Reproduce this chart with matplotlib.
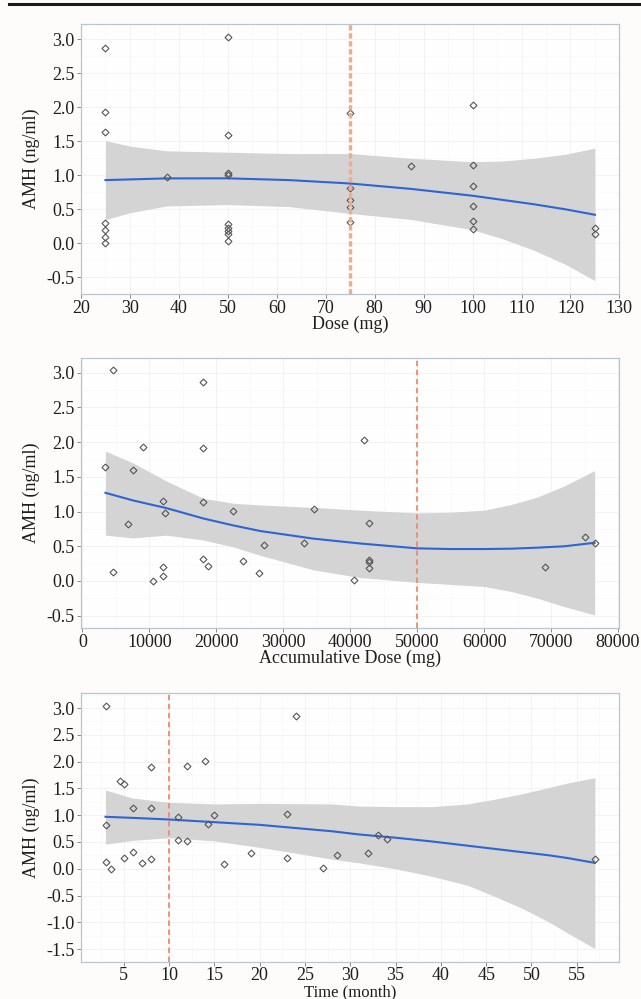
import matplotlib
matplotlib.use("Agg")
import matplotlib.pyplot as plt
from matplotlib.lines import Line2D
from matplotlib.ticker import MultipleLocator, FormatStrFormatter

plt.rcParams['font.family'] = ['Liberation Serif', 'DejaVu Serif']

# ---------------- Panel 1: Dose ----------------
dose_x = [25, 25, 25, 25, 25, 25, 25,
          37.5,
          50, 50, 50, 50, 50, 50, 50, 50, 50,
          75, 75, 75, 75, 75,
          87.5,
          100, 100, 100, 100, 100, 100,
          125, 125]
dose_y = [2.87, 1.93, 1.64, 0.30, 0.19, 0.09, 0.01,
          0.98,
          3.04, 1.60, 1.035, 1.01, 0.28, 0.22, 0.18, 0.14, 0.03,
          1.91, 0.81, 0.64, 0.53, 0.31,
          1.14,
          2.03, 1.15, 0.85, 0.555, 0.33, 0.21,
          0.22, 0.13]
dose_fit_x = [25, 30, 37.5, 50, 62.5, 75, 87.5, 100, 106, 112.5, 119, 125]
dose_fit = [0.93, 0.94, 0.955, 0.956, 0.93, 0.88, 0.80, 0.70, 0.64, 0.575, 0.50, 0.42]
dose_hi = [1.51, 1.43, 1.36, 1.34, 1.32, 1.32, 1.25, 1.20, 1.21, 1.25, 1.31, 1.40]
dose_lo = [0.35, 0.45, 0.55, 0.57, 0.54, 0.44, 0.35, 0.20, 0.07, -0.10, -0.31, -0.55]
dose_cut = 75

# ---------------- Panel 2: Accumulative dose ----------------
acc_x = [3450, 4550, 4550, 6840, 7580, 9130, 10570, 12110, 12400, 12110, 12110,
         18080, 18080, 18080, 18080, 18830, 22550, 24050, 26340, 27090, 33060,
         34600, 40570, 42060, 42810, 42810, 42810, 42810, 69070, 75040, 76590]
acc_y = [1.64, 3.04, 0.13, 0.82, 1.60, 1.93, 0.00, 1.15, 0.98, 0.20, 0.07,
         2.87, 1.91, 1.14, 0.32, 0.21, 1.01, 0.29, 0.12, 0.52, 0.54,
         1.04, 0.02, 2.03, 0.84, 0.30, 0.27, 0.18, 0.20, 0.63, 0.55]
acc_fit_x = [3450, 7570, 12540, 18080, 22560, 26540, 34500, 41470, 50000,
             55000, 60000, 64000, 68000, 72000, 76500]
acc_fit = [1.27, 1.16, 1.05, 0.90, 0.80, 0.72, 0.61, 0.54, 0.47,
           0.46, 0.46, 0.465, 0.48, 0.50, 0.55]
acc_hi = [1.87, 1.70, 1.44, 1.19, 1.12, 1.095, 1.06, 1.02, 0.98,
          0.99, 1.02, 1.10, 1.21, 1.37, 1.59]
acc_lo = [0.66, 0.62, 0.66, 0.59, 0.49, 0.37, 0.16, 0.05, -0.02,
          -0.05, -0.08, -0.15, -0.25, -0.37, -0.49]
acc_cut = 50000

# ---------------- Panel 3: Time ----------------
time_x = [3.05, 3.05, 3.05, 3.57, 4.56, 5.04, 5.04, 6.06, 6.06, 7.06, 8.05, 8.05,
          8.05, 11.05, 11.05, 12.04, 12.04, 14.02, 14.28, 15.0, 16.04, 19.01,
          23.0, 23.0, 24.06, 27.0, 28.5, 32.0, 33.03, 34.02, 57.0]
time_y = [3.03, 0.81, 0.13, 0.00, 1.63, 1.59, 0.21, 1.13, 0.32, 0.11, 1.90, 1.14,
          0.19, 0.97, 0.54, 1.92, 0.52, 2.02, 0.83, 1.00, 0.08, 0.30,
          1.03, 0.20, 2.86, 0.015, 0.26, 0.29, 0.63, 0.55, 0.18]
time_fit_x = [3, 6, 10, 15, 20, 28, 31, 35, 39, 43, 46, 49, 52, 54, 57]
time_fit = [0.97, 0.95, 0.92, 0.87, 0.82, 0.70, 0.64, 0.58, 0.51, 0.43, 0.37,
            0.31, 0.25, 0.20, 0.11]
time_hi = [1.47, 1.32, 1.24, 1.21, 1.22, 1.21, 1.17, 1.16, 1.16, 1.21, 1.30,
           1.40, 1.52, 1.60, 1.70]
time_lo = [0.46, 0.53, 0.58, 0.52, 0.40, 0.18, 0.11, 0.00, -0.14, -0.31, -0.52,
           -0.74, -1.00, -1.20, -1.49]
time_cut = 10

W, H = 641, 999
fig = plt.figure(figsize=(W / 100, H / 100), dpi=100, facecolor='#fdfcfb')

# top black rule
fig.add_artist(Line2D([9 / W, 1.0], [1 - 4 / H, 1 - 4 / H], color='#1a1a1a', lw=2.2))


def panel(box, xs, ys, fx, fy, hi, lo, cut, xlim, ylim, xstep, ystep, xlabel,
          cut_lw, cut_dash, cut_color, xfmt=None, xlabelpad=-1, xtickpad=1.5,
          xlabelsize=13):
    left, top, right, bottom = box
    ax = fig.add_axes([left / W, 1 - bottom / H, (right - left) / W, (bottom - top) / H])
    ax.set_facecolor('#fefefe')
    ax.set_xlim(*xlim)
    ax.set_ylim(*ylim)
    ax.xaxis.set_major_locator(MultipleLocator(xstep))
    ax.yaxis.set_major_locator(MultipleLocator(ystep))
    ax.xaxis.set_minor_locator(MultipleLocator(xstep / 2))
    ax.yaxis.set_minor_locator(MultipleLocator(ystep / 2))
    ax.yaxis.set_major_formatter(FormatStrFormatter('%.1f'))
    if xfmt:
        ax.xaxis.set_major_formatter(FormatStrFormatter(xfmt))
    ax.grid(True, which='major', color='#f0f0f0', lw=0.6)
    ax.grid(True, which='minor', color='#f7f7f7', lw=0.5)
    ax.set_axisbelow(True)
    for s in ax.spines.values():
        s.set_color('#b9c6d0')
        s.set_linewidth(0.9)
    ax.tick_params(which='major', length=3, width=0.7, color='#888888',
                   labelsize=13, labelcolor='#1e1e1e', pad=1.5)
    ax.tick_params(axis='x', which='major', pad=xtickpad)
    ax.tick_params(which='minor', length=0)
    ax.fill_between(fx, lo, hi, color='#d4d4d4', lw=0, zorder=2)
    ax.plot(fx, fy, color='#2f64d4', lw=1.5, zorder=3)
    ax.plot(xs, ys, linestyle='none', marker='D', ms=3.5, mfc='none',
            mec='#555555', mew=0.8, zorder=4)
    ax.axvline(cut, color=cut_color, lw=cut_lw, dashes=cut_dash, zorder=5)
    ax.set_xlabel(xlabel, fontsize=xlabelsize, color='#1e1e1e', labelpad=xlabelpad)
    ax.set_ylabel('AMH (ng/ml)', fontsize=13, color='#1e1e1e')
    ax.yaxis.set_label_coords((39.5 - left) / (right - left), 0.5)
    return ax


panel((81, 24.3, 619.4, 294), dose_x, dose_y, dose_fit_x, dose_fit, dose_hi, dose_lo,
      dose_cut, (20, 130), (-0.745, 3.221), 10, 0.5, 'Dose (mg)',
      2.4, (1.6, 0.8), '#f7a88c', '%d')
panel((81, 357.7, 619.4, 627.7), acc_x, acc_y, acc_fit_x, acc_fit, acc_hi, acc_lo,
      acc_cut, (-200, 80200), (-0.673, 3.216), 10000, 0.5, 'Accumulative Dose (mg)',
      1.3, (3, 2), '#f08a6c', '%d')
panel((81, 693.0, 619.4, 961.5), time_x, time_y, time_fit_x, time_fit, time_hi, time_lo,
      time_cut, (0.3, 59.7), (-1.73, 3.28), 5, 0.5, 'Time (month)',
      1.3, (3, 2), '#f08a6c', '%d', xlabelpad=0.5, xtickpad=1.0, xlabelsize=12)

fig.savefig('out.png', dpi=100, facecolor=fig.get_facecolor())
